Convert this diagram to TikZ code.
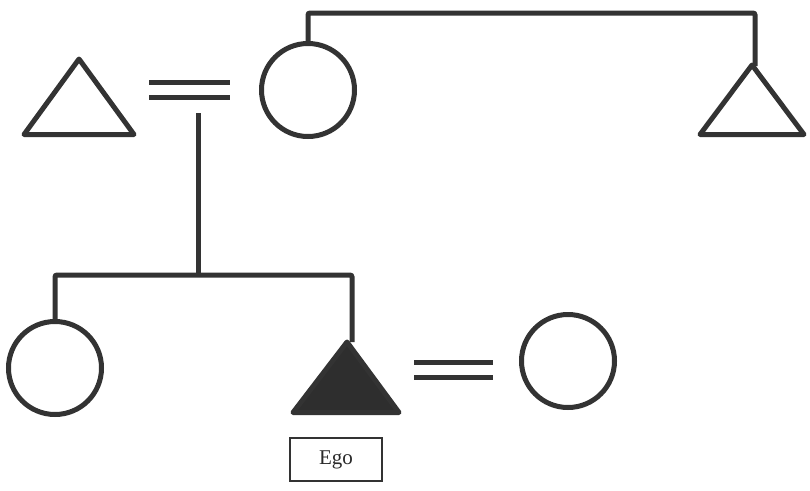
\documentclass[tikz,border=0pt]{standalone}
\usepackage{fontspec}
\setmainfont{Liberation Serif}
\definecolor{ink}{HTML}{333333}
\newcommand{\egofont}{\fontsize{21}{25}\selectfont}
\begin{document}
\begin{tikzpicture}[x=1pt,y=-1pt,
  kin/.style={draw=ink, line width=5pt, line join=round},
  egotri/.style={draw=ink, fill=ink!90!black, line width=5pt, line join=round},
  fem/.style={circle, draw=ink, line width=5pt, minimum size=93pt, inner sep=0pt},
  link/.style={draw=ink, line width=5pt, rounded corners=2pt},
  marriage/.style={draw=ink, line width=5pt},
  egobox/.style={draw=ink, line width=2pt, minimum width=92pt, minimum height=43pt, inner sep=0pt, text=ink!80!black}]
\useasboundingbox (0,0) rectangle (810,490);

% apexes of the triangles
\coordinate (father) at (79,59);
\coordinate (uncle) at (752,65);
\coordinate (ego) at (347,342);

% triangles
\draw[kin] (father) -- ++(-55,75.5) -- ++(110,0) -- cycle;
\draw[kin] (uncle) -- ++(-52,69.5) -- ++(104,0) -- cycle;
\draw[egotri] (ego) -- ++(-54,70.5) -- ++(106,0) -- cycle;

% circles
\node[fem] (mother) at (308,90) {};
\node[fem] (sister) at (55,368) {};
\node[fem] (wife) at (568,361) {};

% marriage marks
\coordinate (m1a) at (149,82); \coordinate (m1b) at (230,82);
\coordinate (m1c) at (149,97); \coordinate (m1d) at (230,97);
\draw[marriage] (m1a) -- (m1b);
\draw[marriage] (m1c) -- (m1d);
\coordinate (m2a) at (414,362); \coordinate (m2b) at (493,362);
\coordinate (m2c) at (414,377); \coordinate (m2d) at (493,377);
\draw[marriage] (m2a) -- (m2b);
\draw[marriage] (m2c) -- (m2d);

% descent line and sibling bar
\coordinate (stemtop) at (198,113);
\coordinate (stembot) at (198,275);
\draw[marriage] (stemtop) -- (stembot);
\draw[link] (sister.north) -- (55,275) -- (352,275) -- (352,342);

% mother to her brother
\draw[link] (mother.north) -- (308,13) -- (755,13) -- (755,66);

% Ego label
\node[egobox] (egolabel) at (336,459.5) {\egofont Ego};
\end{tikzpicture}
\end{document}
